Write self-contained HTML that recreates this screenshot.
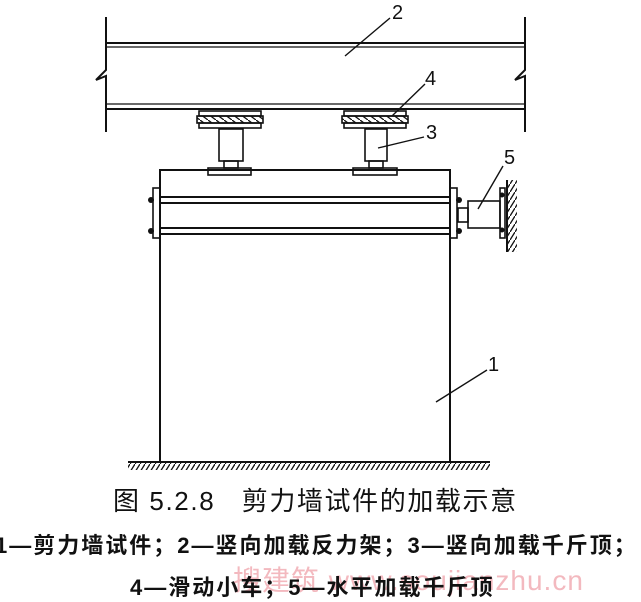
<!DOCTYPE html>
<html><head><meta charset="utf-8"><style>
body{margin:0;background:#fff;width:641px;height:600px;overflow:hidden;position:relative;font-family:"Liberation Sans","Noto Sans CJK SC",sans-serif;}
.t{position:absolute;white-space:nowrap;color:#111;}
</style></head><body>
<svg width="641" height="600" style="position:absolute;left:0;top:0" stroke="#111" fill="none" stroke-width="2">
<defs><pattern id="h" width="5" height="8" patternUnits="userSpaceOnUse"><path d="M5,0 L0,8" stroke="#111" stroke-width="1.3"/></pattern>
<pattern id="h2" width="8" height="6" patternUnits="userSpaceOnUse"><path d="M0,0 L8,6" stroke="#111" stroke-width="1.3"/></pattern></defs>
<line x1="106" y1="43" x2="525" y2="43"/><line x1="106" y1="47" x2="525" y2="47" stroke-width="1.3"/>
<line x1="106" y1="104" x2="525" y2="104" stroke-width="1.3"/><line x1="106" y1="109" x2="525" y2="109"/>
<path d="M106,17 V70 L96,80 L106,76 V132"/><path d="M525,17 V70 L515,80 L525,76 V132"/>
<g stroke-width="1.6">
<rect x="199" y="111" width="62" height="5"/><rect x="199" y="123" width="62" height="5"/>
<rect x="197" y="116" width="66" height="7" fill="url(#h2)"/>
<rect x="344" y="111" width="62" height="5"/><rect x="344" y="123" width="62" height="5"/>
<rect x="342" y="116" width="66" height="7" fill="url(#h2)"/>
<rect x="219" y="129" width="24" height="32"/><rect x="224" y="161" width="14" height="7"/>
<rect x="208" y="168" width="43" height="7"/>
<rect x="365" y="129" width="22" height="32"/><rect x="369" y="161" width="14" height="7"/>
<rect x="353" y="168" width="44" height="7"/>
</g>
<path d="M160,462 V170 H450 V462"/>
<line x1="160" y1="197" x2="450" y2="197"/><line x1="160" y1="203" x2="450" y2="203"/>
<line x1="160" y1="228" x2="450" y2="228"/><line x1="160" y1="234" x2="450" y2="234"/>
<rect x="153" y="188" width="7" height="50" stroke-width="1.6"/><rect x="450" y="188" width="7" height="50" stroke-width="1.6"/>
<g fill="#111" stroke="none"><circle cx="151" cy="200" r="3"/><circle cx="151" cy="231" r="3"/><circle cx="459" cy="200" r="3"/><circle cx="459" cy="231" r="3"/>
<circle cx="502" cy="195" r="2.5"/><circle cx="502" cy="230" r="2.5"/></g>
<rect x="458" y="208" width="10" height="14" stroke-width="1.6"/>
<rect x="468" y="201" width="32" height="27" stroke-width="1.6"/>
<rect x="500" y="188" width="5" height="50" stroke-width="1.6"/>
<line x1="507" y1="180" x2="507" y2="252"/>
<rect x="508" y="180" width="9" height="72" fill="url(#h)" stroke="none"/>
<line x1="128" y1="462" x2="490" y2="462"/>
<rect x="128" y="463" width="362" height="7" fill="url(#h)" stroke="none"/>
<g stroke-width="1.4"><line x1="345" y1="56" x2="390" y2="18"/><line x1="392" y1="116" x2="425" y2="84"/>
<line x1="378" y1="148" x2="424" y2="137"/><line x1="478" y1="209" x2="503" y2="166"/><line x1="436" y1="402" x2="487" y2="370"/></g>
</svg>
<div class="t" style="left:392px;top:2px;font-size:20px">2</div>
<div class="t" style="left:425px;top:68px;font-size:20px">4</div>
<div class="t" style="left:426px;top:122px;font-size:20px">3</div>
<div class="t" style="left:504px;top:147px;font-size:20px">5</div>
<div class="t" style="left:488px;top:354px;font-size:20px">1</div>
<div class="t" style="left:113px;top:481px;font-size:26px;letter-spacing:1.6px">图 5.2.8&nbsp;&nbsp; 剪力墙试件的加载示意</div>
<div class="t" style="left:233px;top:559px;font-size:28px;color:#f3b9bf;letter-spacing:1px">搜建筑 www.soujianzhu.cn</div>
<div class="t" style="left:-5px;top:528px;font-size:22px;font-weight:bold;letter-spacing:2px">1—剪力墙试件；2—竖向加载反力架；3—竖向加载千斤顶；</div>
<div class="t" style="left:130px;top:570px;font-size:22px;font-weight:bold;letter-spacing:2px">4—滑动小车；5—水平加载千斤顶</div>
</body></html>
